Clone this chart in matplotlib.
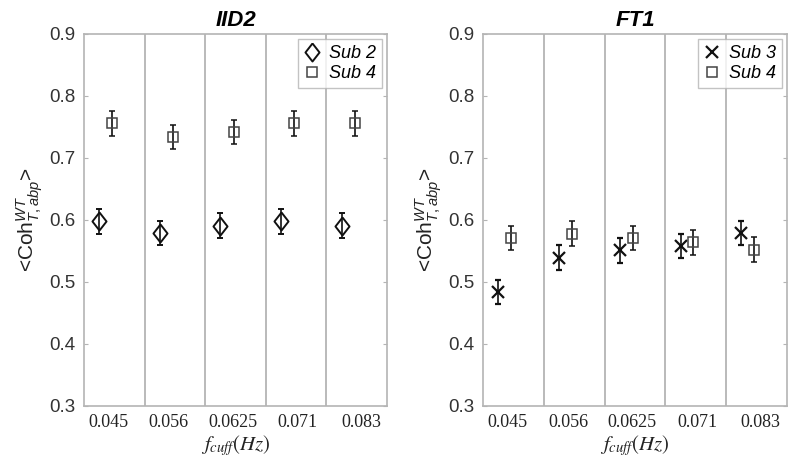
import matplotlib
matplotlib.use("Agg")
import matplotlib.pyplot as plt
import numpy as np

# ---- data ----
fcuff_labels = ["0.045", "0.056", "0.0625", "0.071", "0.083"]

iid2_sub2 = [0.598, 0.579, 0.591, 0.598, 0.591]
iid2_sub2_err = [0.02, 0.02, 0.02, 0.02, 0.02]
iid2_sub4 = [0.756, 0.734, 0.742, 0.756, 0.756]
iid2_sub4_err = [0.02, 0.02, 0.02, 0.02, 0.02]

ft1_sub3 = [0.484, 0.539, 0.551, 0.558, 0.579]
ft1_sub3_err = [0.02, 0.02, 0.02, 0.02, 0.02]
ft1_sub4 = [0.571, 0.578, 0.571, 0.564, 0.552]
ft1_sub4_err = [0.02, 0.02, 0.02, 0.02, 0.02]

plt.rcParams['font.family'] = ['Liberation Sans', 'DejaVu Sans']
plt.rcParams['mathtext.fontset'] = 'custom'
plt.rcParams['mathtext.rm'] = 'Liberation Sans'
plt.rcParams['mathtext.it'] = 'Liberation Sans:italic'
plt.rcParams['mathtext.bf'] = 'Liberation Sans:bold'

fig = plt.figure(figsize=(8.0, 4.58), dpi=100)
W, H = 800, 458
ax1 = fig.add_axes([84/W, 52/H, 303/W, 372/H])
ax2 = fig.add_axes([483/W, 52/H, 304/W, 372/H])

diamond = [(0, 1), (0.78, 0), (0, -1), (-0.78, 0), (0, 1)]
gray = '#b4b4b4'
n = len(fcuff_labels)
idx = np.arange(n)
tick_pos = idx + np.array([0.40, 0.40, 0.45, 0.52, 0.57])


def style(ax, title):
    ax.set_xlim(0, n)
    ax.set_ylim(0.3, 0.9)
    for s in ax.spines.values():
        s.set_color(gray)
        s.set_linewidth(1.2)
    for k in range(1, n):
        ax.axvline(k, color=gray, lw=1.3, zorder=0)
    ax.set_yticks([0.3, 0.4, 0.5, 0.6, 0.7, 0.8, 0.9])
    ax.set_yticklabels(['0.3', '0.4', '0.5', '0.6', '0.7', '0.8', '0.9'])
    ax.tick_params(axis='y', direction='in', length=3, color=gray, labelsize=13.5,
                   labelcolor='#333333', right=True, pad=6)
    ax.set_xticks(tick_pos)
    ax.set_xticklabels(fcuff_labels, family='Liberation Serif', fontsize=13,
                       color='#222222')
    ax.tick_params(axis='x', length=0, pad=6)
    ax.set_title(title, fontsize=16, fontweight='bold', style='italic', pad=6)
    ax.set_xlabel(r'$f_{cuff}(Hz)$', fontsize=15, math_fontfamily='stix',
                  labelpad=1, color='#222222')
    ax.set_ylabel(r'<Coh$^{WT}_{T,abp}$>', fontsize=15, math_fontfamily='custom',
                  color='#222222', labelpad=3)


style(ax1, 'IID2')
style(ax2, 'FT1')

ekw = dict(ls='none', ecolor='#111111', elinewidth=1.2, capsize=2.5, capthick=1.2)

ax1.errorbar(idx + 0.25, iid2_sub2, yerr=iid2_sub2_err, marker=diamond, ms=13,
             mfc='none', mec='#111111', mew=1.4, label='Sub 2', **ekw)
ax1.errorbar(idx + 0.47, iid2_sub4, yerr=iid2_sub4_err, marker='s', ms=7.5,
             mfc='none', mec='#444444', mew=1.1, label='Sub 4', **ekw)

ax2.errorbar(idx + 0.25, ft1_sub3, yerr=ft1_sub3_err, marker='x', ms=8,
             mfc='none', mec='#111111', mew=1.6, label='Sub 3', **ekw)
ax2.errorbar(idx + 0.46, ft1_sub4, yerr=ft1_sub4_err, marker='s', ms=7.5,
             mfc='none', mec='#444444', mew=1.1, label='Sub 4', **ekw)

for ax in (ax1, ax2):
    h, l = ax.get_legend_handles_labels()
    h = [hh[0] for hh in h]
    leg = ax.legend(h, l, loc='upper right', prop={'style': 'italic', 'size': 13},
                    frameon=True, fancybox=False, handlelength=0.9,
                    handletextpad=0.5, borderpad=0.3, labelspacing=0.2,
                    borderaxespad=0.3, edgecolor=gray)
    leg.get_frame().set_linewidth(1.0)

fig.savefig('out.png', dpi=100)
